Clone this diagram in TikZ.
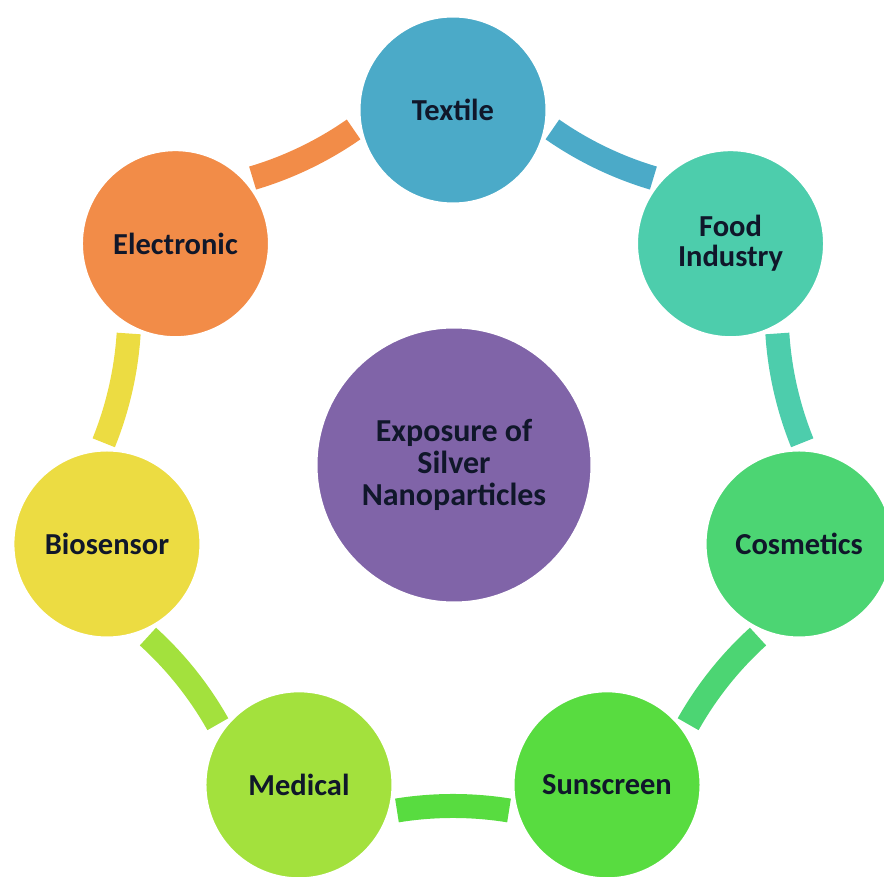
\documentclass[tikz,border=0pt]{standalone}
\usepackage{fontspec}
\setmainfont{Carlito}
\definecolor{ink}{HTML}{10172A}
\definecolor{cTextile}{HTML}{4BAAC8}
\definecolor{cFood}{HTML}{4DCDAC}
\definecolor{cCosm}{HTML}{4CD573}
\definecolor{cSun}{HTML}{58DC40}
\definecolor{cMed}{HTML}{A3E13D}
\definecolor{cBio}{HTML}{ECDC42}
\definecolor{cElec}{HTML}{F28C48}
\definecolor{cCore}{HTML}{8064A8}
\begin{document}
\begin{tikzpicture}[x=1pt,y=1pt,
  item/.style={circle, minimum size=188pt, inner sep=0pt, draw=white, line width=3pt,
    font=\bfseries\fontsize{30.5}{30}\selectfont, text=ink, align=center},
  core/.style={item, minimum size=276pt, font=\bfseries\fontsize{32}{32}\selectfont},
  band/.style={line width=24pt, line cap=butt}]
\useasboundingbox (-453,-411) rectangle (431,465);

% ring bands between neighbouring circles (drawn first, circles on top)
\foreach \i/\c in {0/cTextile,1/cFood,2/cCosm,3/cSun,4/cMed,5/cBio,6/cElec}{
  \pgfmathsetmacro{\a}{90-\i*360/7-16.5}
  \pgfmathsetmacro{\b}{90-(\i+1)*360/7+16.5}
  \coordinate (s\i) at (\a:350);
  \coordinate (e\i) at (\b:350);
  \draw[band, \c] (s\i) to[bend right=9.2, looseness=0.856] (e\i);
}

% hub
\node[core, fill=cCore] (hub) at (1,0) {Exposure of\\Silver\\Nanoparticles};

% application circles
\node[item, fill=cTextile] (textile) at (90:355) {Textile};
\node[item, fill=cFood] (food) at ({90-360/7}:355) {Food\\Industry};
\node[item, fill=cCosm] (cosm) at ({90-2*360/7}:355) {Cosmetics};
\node[item, fill=cSun] (sun) at ({90-3*360/7}:355) {Sunscreen};
\node[item, fill=cMed] (med) at ({90-4*360/7}:355) {Medical};
\node[item, fill=cBio] (bio) at ({90-5*360/7}:355) {Biosensor};
\node[item, fill=cElec] (elec) at ({90-6*360/7}:355) {Electronic};
\end{tikzpicture}
\end{document}
